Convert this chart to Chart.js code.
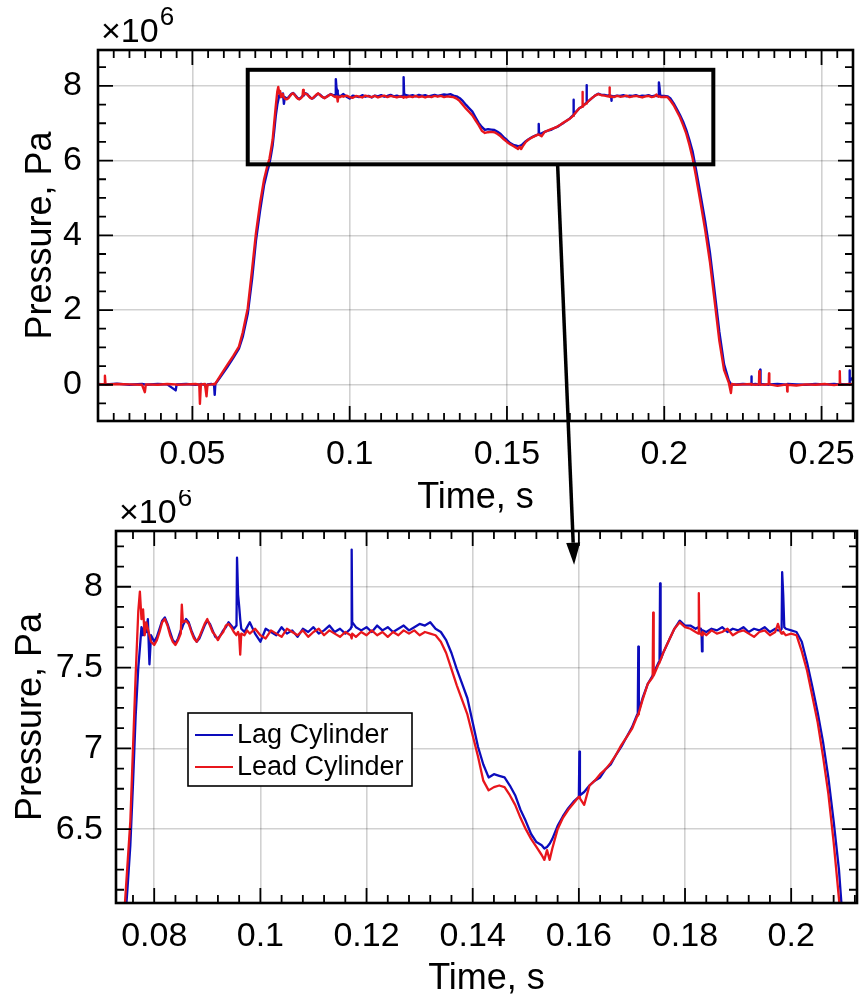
<!DOCTYPE html>
<html>
<head>
<meta charset="utf-8">
<script src="https://cdn.jsdelivr.net/npm/chart.js@4.4.1/dist/chart.umd.min.js"></script>
<style>
  html, body { margin: 0; padding: 0; background: #fff; }
  #page { position: relative; width: 859px; height: 1001px; overflow: hidden; }
  canvas { position: absolute; left: 0; }
  #full { top: 0; }
  #zoom { top: 490px; }
  #overlay { top: 0; pointer-events: none; }
</style>
</head>
<body>
<div id="page">
  <canvas id="full" width="859" height="520"></canvas>
  <canvas id="zoom" width="859" height="511"></canvas>
  <canvas id="overlay" width="859" height="1001"></canvas>
</div>
<script>
// pressure traces, time in s, pressure in units of 10^6 Pa
const timeS = [
  // baseline before the stroke
  0.0200, 0.0220, 0.0222, 0.0224, 0.0260, 0.0300, 0.0340, 0.0349, 0.0352, 0.0390,
  0.0420, 0.0447, 0.0450, 0.0480, 0.0510, 0.0522, 0.0524, 0.0527, 0.0540, 0.0545,
  0.0548, 0.0560, 0.0569, 0.0571, 0.0573,
  // rise
  0.0590, 0.0610, 0.0630, 0.0648, 0.0660, 0.0676, 0.0690, 0.0702, 0.0715, 0.0728,
  0.0738, 0.0745, 0.0750, 0.0755, 0.0760, 0.0765,
  // overshoot and ringing
  0.0770, 0.0773, 0.0776, 0.0779, 0.0782, 0.0785, 0.0788, 0.0791, 0.0794, 0.0800,
  0.0805, 0.0810, 0.0815, 0.0820, 0.0825, 0.0830, 0.0835, 0.0840, 0.0845, 0.0850,
  0.0852, 0.0854, 0.0860, 0.0865, 0.0870, 0.0875, 0.0880, 0.0885, 0.0890, 0.0895,
  0.0900, 0.0905, 0.0910, 0.0915, 0.0920, 0.0925, 0.0930, 0.0935, 0.0940, 0.0945,
  0.0950, 0.0955, 0.0956, 0.0958, 0.0960, 0.0962, 0.0964, 0.0970, 0.0975,
  // first plateau
  0.0980, 0.0990, 0.1000, 0.1010, 0.1020, 0.1030, 0.1040, 0.1050, 0.1060, 0.1070,
  0.1080, 0.1090, 0.1100, 0.1110, 0.1120, 0.1130, 0.1140, 0.1150, 0.1160, 0.1170,
  0.1171, 0.1172, 0.1173, 0.1180, 0.1190, 0.1200, 0.1210, 0.1220, 0.1230, 0.1240,
  0.1250, 0.1260, 0.1270, 0.1280, 0.1290, 0.1300, 0.1310, 0.1320,
  // dip and recovery
  0.1330, 0.1340, 0.1350, 0.1360, 0.1370, 0.1380, 0.1390, 0.1400, 0.1410, 0.1420,
  0.1430, 0.1440, 0.1450, 0.1460, 0.1470, 0.1480, 0.1490, 0.1500, 0.1510, 0.1520,
  0.1530, 0.1535, 0.1540, 0.1545, 0.1550, 0.1560, 0.1570, 0.1580, 0.1590, 0.1600,
  0.1601, 0.1602, 0.1610, 0.1620, 0.1630, 0.1640, 0.1650, 0.1660, 0.1670, 0.1680,
  0.1690, 0.1700, 0.1710, 0.1711, 0.1712, 0.1713, 0.1720, 0.1730, 0.1739, 0.1740,
  0.1741, 0.1750, 0.1752, 0.1753, 0.1754, 0.1760, 0.1770, 0.1780, 0.1790, 0.1800,
  0.1810, 0.1820, 0.1825, 0.1826, 0.1827, 0.1830, 0.1831, 0.1832, 0.1833,
  // second plateau and fall
  0.1840, 0.1850, 0.1860, 0.1870, 0.1880, 0.1890, 0.1900, 0.1910, 0.1920, 0.1930,
  0.1940, 0.1950, 0.1960, 0.1970, 0.1975, 0.1980, 0.1982, 0.1983, 0.1985, 0.1987,
  0.1990, 0.2000, 0.2010, 0.2020, 0.2030, 0.2040, 0.2050, 0.2060, 0.2070, 0.2080,
  0.2090,
  // end of fall
  0.2100, 0.2115, 0.2130, 0.2145, 0.2160, 0.2175, 0.2190, 0.2205, 0.2212, 0.2215,
  // baseline after
  0.2230, 0.2250, 0.2276, 0.2277, 0.2278, 0.2290, 0.2301, 0.2302, 0.2303, 0.2304,
  0.2305, 0.2306, 0.2320, 0.2332, 0.2333, 0.2334, 0.2360, 0.2390, 0.2391, 0.2392,
  0.2420, 0.2450, 0.2480, 0.2510, 0.2540, 0.2557, 0.2558, 0.2559, 0.2575, 0.2588,
  0.2589, 0.2590, 0.2600
];

const lagPa = [
  0.02, 0.01, 0.02, 0.01, 0.03, 0.00, 0.02, 0.01, 0.00, 0.02,
  0.01, -0.15, 0.01, 0.02, 0.00, 0.01, 0.00, 0.02, 0.00, -0.10,
  0.01, 0.02, 0.00, -0.27, 0.02,

  0.22, 0.46, 0.72, 0.97, 1.28, 1.90, 2.85, 3.85, 4.65, 5.35,
  5.70, 5.92, 6.15, 6.40, 6.78, 7.20,

  7.50, 7.62, 7.75, 7.70, 7.78, 7.72, 7.80, 7.52, 7.70, 7.66,
  7.69, 7.74, 7.79, 7.81, 7.77, 7.72, 7.67, 7.65, 7.68, 7.73,
  7.74, 7.76, 7.80, 7.78, 7.73, 7.69, 7.66, 7.68, 7.72, 7.76,
  7.79, 7.77, 7.73, 7.69, 7.68, 7.70, 7.73, 7.75, 7.78, 7.76,
  7.74, 7.76, 8.18, 7.95, 7.88, 7.80, 7.74, 7.72, 7.75,

  7.78, 7.71, 7.66, 7.74, 7.72, 7.70, 7.75, 7.71, 7.73, 7.69,
  7.74, 7.72, 7.75, 7.71, 7.73, 7.76, 7.72, 7.74, 7.71, 7.74,
  7.75, 8.23, 7.78, 7.75, 7.73, 7.75, 7.72, 7.76, 7.73, 7.75,
  7.72, 7.74, 7.76, 7.73, 7.75, 7.77, 7.76, 7.78,

  7.74, 7.72, 7.67, 7.59, 7.49, 7.40, 7.31, 7.16, 7.01, 6.90,
  6.82, 6.84, 6.83, 6.82, 6.77, 6.71, 6.62, 6.55, 6.47, 6.42,
  6.40, 6.38, 6.39, 6.41, 6.44, 6.52, 6.58, 6.63, 6.67, 6.70,
  6.98, 6.71, 6.73, 6.77, 6.80, 6.82, 6.87, 6.90, 6.96, 7.01,
  7.07, 7.13, 7.21, 7.22, 7.63, 7.23, 7.31, 7.40, 7.45, 7.46,
  7.46, 7.53, 7.54, 8.02, 7.55, 7.60, 7.67, 7.74, 7.79, 7.76,
  7.76, 7.74, 7.75, 7.74, 7.74, 7.74, 7.73, 7.60, 7.73,

  7.72, 7.74, 7.73, 7.75, 7.72, 7.74, 7.73, 7.75, 7.72, 7.74,
  7.73, 7.75, 7.72, 7.74, 7.73, 7.73, 7.74, 8.09, 7.95, 7.75,
  7.74, 7.73, 7.72, 7.66, 7.53, 7.38, 7.22, 7.04, 6.82, 6.55,
  6.25,

  5.80, 5.10, 4.38, 3.55, 2.50, 1.42, 0.55, 0.12, 0.02, 0.00,

  0.01, 0.02, 0.01, 0.22, 0.01, 0.02, 0.00, 0.01, 0.02, 0.01,
  0.40, 0.02, 0.01, 0.00, 0.02, 0.01, 0.02, 0.00, 0.01, 0.02,
  0.01, 0.00, 0.02, 0.01, 0.02, 0.01, 0.00, 0.02, 0.01, 0.02,
  0.38, 0.10, 0.20
];

const leadPa = [
  0.01, 0.02, 0.24, 0.00, 0.02, 0.01, 0.00, -0.20, 0.01, 0.00,
  0.02, 0.01, 0.00, 0.01, 0.02, 0.00, -0.51, 0.01, 0.02, -0.31,
  0.00, 0.01, 0.02, 0.01, 0.03,

  0.26, 0.52, 0.77, 1.02, 1.40, 2.05, 3.10, 4.05, 4.85, 5.50,
  5.85, 6.05, 6.30, 6.55, 7.00, 7.45,

  7.85, 7.97, 7.80, 7.86, 7.70, 7.78, 7.74, 7.70, 7.66, 7.64,
  7.67, 7.72, 7.78, 7.80, 7.76, 7.70, 7.66, 7.64, 7.67, 7.71,
  7.89, 7.78, 7.79, 7.77, 7.72, 7.68, 7.66, 7.69, 7.73, 7.77,
  7.80, 7.76, 7.72, 7.70, 7.67, 7.70, 7.72, 7.76, 7.77, 7.75,
  7.72, 7.70, 7.71, 7.72, 7.70, 7.58, 7.71, 7.70, 7.73,

  7.71, 7.74, 7.70, 7.68, 7.73, 7.71, 7.69, 7.74, 7.72, 7.70,
  7.73, 7.69, 7.72, 7.74, 7.70, 7.73, 7.71, 7.69, 7.72, 7.70,
  7.69, 7.68, 7.71, 7.69, 7.72, 7.70, 7.73, 7.70, 7.72, 7.69,
  7.72, 7.70, 7.73, 7.71, 7.73, 7.70, 7.72, 7.71,

  7.70, 7.66, 7.59, 7.49, 7.39, 7.30, 7.21, 7.08, 6.95, 6.80,
  6.74, 6.76, 6.77, 6.76, 6.71, 6.65, 6.57, 6.50, 6.44, 6.39,
  6.34, 6.31, 6.37, 6.31, 6.38, 6.50, 6.57, 6.62, 6.66, 6.70,
  6.70, 6.69, 6.65, 6.77, 6.80, 6.84, 6.87, 6.91, 6.96, 7.02,
  7.07, 7.12, 7.20, 7.21, 7.21, 7.22, 7.30, 7.40, 7.44, 7.84,
  7.45, 7.52, 7.53, 7.54, 7.54, 7.60, 7.67, 7.74, 7.78, 7.75,
  7.74, 7.72, 7.71, 7.96, 7.71, 7.71, 7.70, 7.70, 7.72,

  7.70, 7.73, 7.71, 7.72, 7.74, 7.70, 7.72, 7.73, 7.71, 7.69,
  7.72, 7.73, 7.70, 7.72, 7.77, 7.72, 7.71, 7.71, 7.72, 7.71,
  7.70, 7.71, 7.70, 7.60, 7.48, 7.32, 7.16, 6.95, 6.72, 6.42,
  6.07,

  5.62, 4.90, 4.15, 3.30, 2.25, 1.18, 0.40, 0.06, -0.22, 0.02,

  0.00, 0.01, 0.02, 0.00, 0.01, 0.00, 0.01, 0.36, 0.02, 0.01,
  0.00, 0.01, 0.00, 0.02, 0.30, 0.01, -0.03, 0.01, -0.18, 0.00,
  -0.02, 0.01, 0.00, 0.02, -0.01, 0.01, 0.36, 0.00, 0.01, 0.02,
  0.00, 0.01, 0.02
];

const seriesNames = ['Lag Cylinder', 'Lead Cylinder'];
const fullTimeTicks = [0.05, 0.1, 0.15, 0.2, 0.25];
const fullPressureTicks = [0, 2, 4, 6, 8];
const zoomTimeTicks = [0.08, 0.1, 0.12, 0.14, 0.16, 0.18, 0.2];
const zoomPressureTicks = [6.5, 7, 7.5, 8];

// window marked on the full plot: [t0, t1, p0, p1]
const zoomRegion = [0.0676, 0.2156, 5.9, 8.43];

const BLUE = '#0c0cbc';
const RED = '#e8161c';
const GRID = 'rgba(0,0,0,0.18)';
const FONT = "'Liberation Sans', Arial, sans-serif";

Chart.defaults.font.family = FONT;
Chart.defaults.color = '#000';

function points(values) {
  return timeS.map((t, i) => ({ x: t, y: values[i] }));
}

function makeDatasets(width) {
  return [
    { label: seriesNames[0], data: points(lagPa), borderColor: BLUE, borderWidth: width,
      pointRadius: 0, borderJoinStyle: 'round', order: 2 },
    { label: seriesNames[1], data: points(leadPa), borderColor: RED, borderWidth: width,
      pointRadius: 0, borderJoinStyle: 'round', order: 1 }
  ];
}

function stepValues(scale, step) {
  const out = [];
  const first = Math.ceil(scale.min / step - 1e-6);
  const last = Math.floor(scale.max / step + 1e-6);
  for (let k = first; k <= last; k++) out.push(k * step);
  return out;
}

// matlab style box: inward ticks on all four sides
const axesPlugin = {
  id: 'matlabAxes',
  afterDatasetsDraw(chart, args, opts) {
    const { ctx, chartArea: a, scales: { x, y } } = chart;
    const xMajor = x.ticks.map(t => t.value);
    const yMajor = y.ticks.map(t => t.value);
    const isMajor = (v, list, step) => list.some(m => Math.abs(m - v) < step / 10);
    ctx.save();
    ctx.strokeStyle = '#000';
    ctx.lineWidth = 1.8;
    ctx.beginPath();
    stepValues(x, opts.xMinor).forEach(v => {
      const len = isMajor(v, xMajor, opts.xMinor) ? 15 : 8;
      const px = x.getPixelForValue(v);
      ctx.moveTo(px, a.bottom); ctx.lineTo(px, a.bottom - len);
      ctx.moveTo(px, a.top); ctx.lineTo(px, a.top + len);
    });
    stepValues(y, opts.yMinor).forEach(v => {
      const len = isMajor(v, yMajor, opts.yMinor) ? 15 : 8;
      const py = y.getPixelForValue(v);
      ctx.moveTo(a.left, py); ctx.lineTo(a.left + len, py);
      ctx.moveTo(a.right, py); ctx.lineTo(a.right - len, py);
    });
    ctx.stroke();
    ctx.lineWidth = 2.6;
    ctx.strokeRect(a.left, a.top, a.right - a.left, a.bottom - a.top);

    // x10^6 exponent above the y axis
    ctx.fillStyle = '#000';
    ctx.textAlign = 'left';
    ctx.textBaseline = 'alphabetic';
    ctx.font = '34px ' + FONT;
    const base = '\u00d710';
    ctx.fillText(base, a.left + 3, a.top - 8);
    const w = ctx.measureText(base).width;
    ctx.font = '26px ' + FONT;
    ctx.fillText('6', a.left + 4 + w, a.top - 25);
    ctx.restore();
  }
};

const regionPlugin = {
  id: 'region',
  afterDatasetsDraw(chart, args, opts) {
    if (!opts.box) return;
    const { ctx, scales: { x, y } } = chart;
    const [t0, t1, p0, p1] = opts.box;
    const x0 = x.getPixelForValue(t0), x1 = x.getPixelForValue(t1);
    const y0 = y.getPixelForValue(p1), y1 = y.getPixelForValue(p0);
    ctx.save();
    ctx.strokeStyle = '#000';
    ctx.lineWidth = 4;
    ctx.strokeRect(x0, y0, x1 - x0, y1 - y0);
    ctx.restore();
  }
};

const legendPlugin = {
  id: 'boxLegend',
  afterDraw(chart, args, opts) {
    if (!opts.show) return;
    const { ctx, chartArea: a } = chart;
    const x0 = a.left + 72, y0 = a.top + 182, w = 224, h = 73;
    ctx.save();
    ctx.fillStyle = '#fff';
    ctx.fillRect(x0, y0, w, h);
    ctx.strokeStyle = '#000';
    ctx.lineWidth = 1.6;
    ctx.strokeRect(x0, y0, w, h);
    ctx.font = '27px ' + FONT;
    ctx.textAlign = 'left';
    ctx.textBaseline = 'middle';
    chart.data.datasets.forEach((ds, i) => {
      const yy = y0 + 22 + i * 32;
      ctx.strokeStyle = ds.borderColor;
      ctx.lineWidth = 2;
      ctx.beginPath();
      ctx.moveTo(x0 + 7, yy);
      ctx.lineTo(x0 + 45, yy);
      ctx.stroke();
      ctx.fillStyle = '#000';
      ctx.fillText(ds.label, x0 + 49, yy + 1);
    });
    ctx.restore();
  }
};

function axisConfig(o) {
  return {
    type: 'linear',
    min: o.min,
    max: o.max,
    afterBuildTicks: s => { s.ticks = o.ticks.map(v => ({ value: v })); },
    afterFit: s => {
      if (o.width) s.width = o.width;
      if (o.height) s.height = o.height;
      // keep edge labels from shrinking the plot box
      s.paddingLeft = 0; s.paddingRight = 0; s.paddingTop = 0; s.paddingBottom = 0;
    },
    ticks: {
      padding: o.tickPad,
      font: { size: 34 },
      color: '#000',
      maxRotation: 0,
      autoSkip: false,
      callback: v => String(v)
    },
    grid: { color: GRID, lineWidth: 1.6, drawTicks: false },
    border: { display: false },
    title: {
      display: true,
      text: o.title,
      font: { size: 36 },
      color: '#000',
      padding: { top: o.titlePad, bottom: o.titlePad }
    }
  };
}

const fullChart = new Chart(document.getElementById('full'), {
  type: 'line',
  data: { datasets: makeDatasets(2.4) },
  options: {
    responsive: false,
    animation: false,
    events: [],
    layout: { padding: { top: 50, right: 6, left: 0, bottom: 0 } },
    plugins: {
      legend: { display: false },
      tooltip: { enabled: false },
      matlabAxes: { xMinor: 0.005, yMinor: 0.5 },
      region: { box: zoomRegion }
    },
    scales: {
      x: axisConfig({ min: 0.02, max: 0.26, ticks: fullTimeTicks, height: 99,
        tickPad: 13, title: 'Time, s', titlePad: 0 }),
      y: axisConfig({ min: -0.97, max: 8.96, ticks: fullPressureTicks, width: 98,
        tickPad: 16, title: 'Pressure, Pa', titlePad: 19 })
    }
  },
  plugins: [axesPlugin, regionPlugin]
});

const zoomChart = new Chart(document.getElementById('zoom'), {
  type: 'line',
  data: { datasets: makeDatasets(2.3) },
  options: {
    responsive: false,
    animation: false,
    events: [],
    layout: { padding: { top: 41, right: 2, left: 0, bottom: 0 } },
    plugins: {
      legend: { display: false },
      tooltip: { enabled: false },
      matlabAxes: { xMinor: 0.004, yMinor: 0.125 },
      boxLegend: { show: true }
    },
    scales: {
      x: axisConfig({ min: 0.0728, max: 0.2124, ticks: zoomTimeTicks, height: 98,
        tickPad: 13, title: 'Time, s', titlePad: 0 }),
      y: axisConfig({ min: 6.043, max: 8.345, ticks: zoomPressureTicks, width: 116,
        tickPad: 13, title: 'Pressure, Pa', titlePad: 9 })
    }
  },
  plugins: [axesPlugin, legendPlugin]
});

// arrow from the marked window down into the zoomed plot
const arrowFrom = [0.1661, 5.9];   // full plot coordinates
const arrowTo = [0.1591, 8.136];   // zoom plot coordinates

(function drawArrow() {
  const ctx = document.getElementById('overlay').getContext('2d');
  const zoomOffset = document.getElementById('zoom').offsetTop;
  const sx = fullChart.scales.x.getPixelForValue(arrowFrom[0]);
  const sy = fullChart.scales.y.getPixelForValue(arrowFrom[1]);
  const ex = zoomChart.scales.x.getPixelForValue(arrowTo[0]);
  const ey = zoomChart.scales.y.getPixelForValue(arrowTo[1]) + zoomOffset;
  const len = Math.hypot(ex - sx, ey - sy);
  const ux = (ex - sx) / len, uy = (ey - sy) / len;
  const head = 22, half = 7;
  const bx = ex - ux * head, by = ey - uy * head;
  ctx.strokeStyle = '#000';
  ctx.fillStyle = '#000';
  ctx.lineWidth = 3.5;
  ctx.beginPath();
  ctx.moveTo(sx, sy);
  ctx.lineTo(bx, by);
  ctx.stroke();
  ctx.beginPath();
  ctx.moveTo(ex, ey);
  ctx.lineTo(bx - uy * half, by + ux * half);
  ctx.lineTo(bx + uy * half, by - ux * half);
  ctx.closePath();
  ctx.fill();
})();
</script>
</body>
</html>
